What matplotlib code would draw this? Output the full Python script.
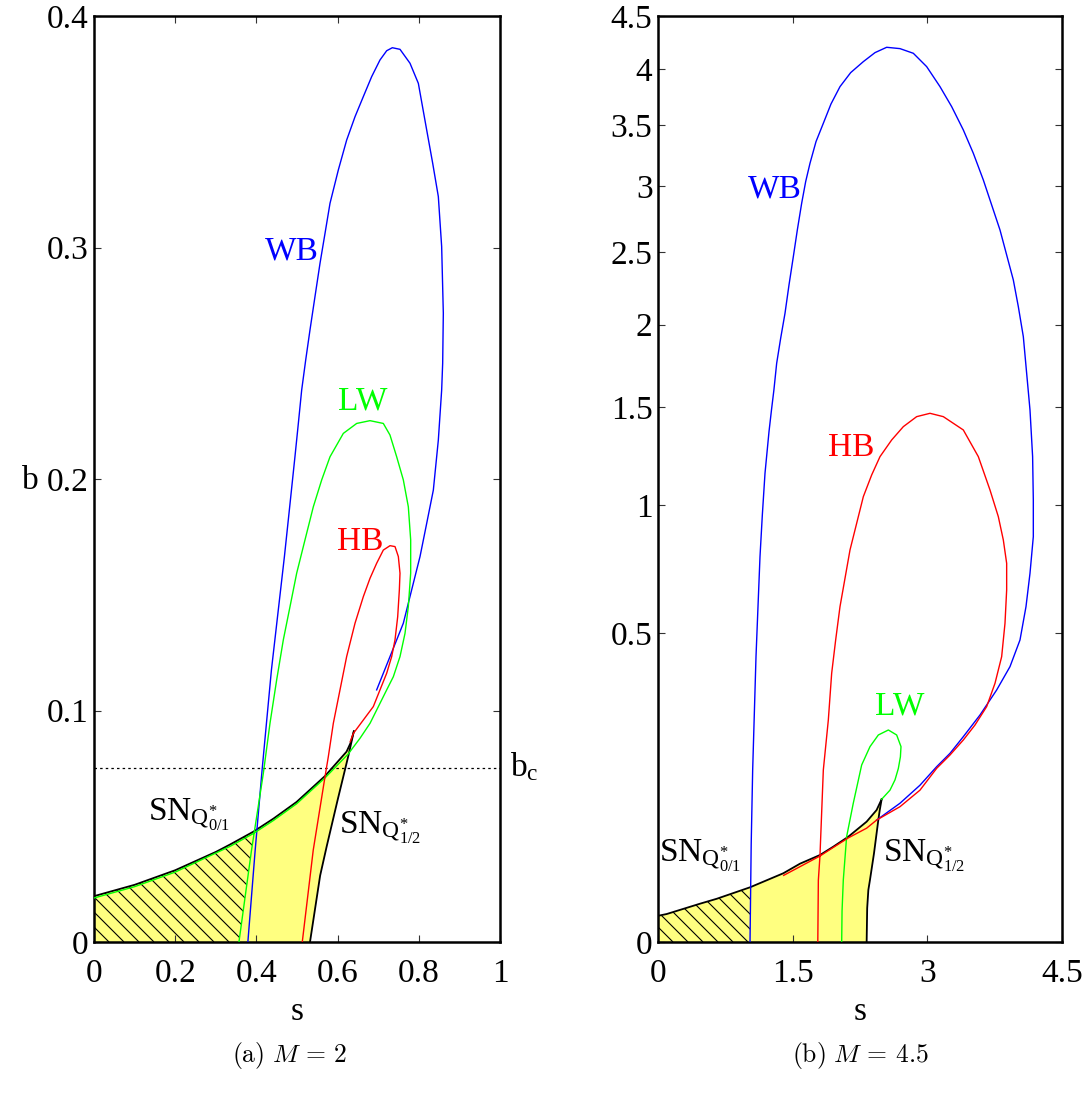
import numpy as np
import matplotlib
matplotlib.use("Agg")
import matplotlib.pyplot as plt
from matplotlib.patches import Polygon
from matplotlib.collections import LineCollection
from matplotlib.transforms import IdentityTransform, blended_transform_factory

plt.rcParams.update({
    "font.family": ["Liberation Serif", "DejaVu Serif"],
    "mathtext.fontset": "custom",
    "mathtext.rm": "Liberation Serif",
    "mathtext.it": "Liberation Serif:italic",
    "mathtext.bf": "Liberation Serif:bold",
    "font.size": 24,
})

# ---------------- panel (a): M = 2 ----------------
# saddle-node curve SN_{Q*_{0/1}} (upper edge of the shaded region, ends at the cusp)
s_sn01_a = [0.0, 0.1, 0.2, 0.3, 0.335, 0.393, 0.442, 0.499, 0.569, 0.622, 0.632, 0.640]
b_sn01_a = [0.0198, 0.0247, 0.0310, 0.0389, 0.0421, 0.0477, 0.0533, 0.0605, 0.0717, 0.0822, 0.0860, 0.0910]
# saddle-node curve SN_{Q*_{1/2}} (from the cusp down to b = 0)
s_sn12_a = [0.640, 0.627, 0.600, 0.573, 0.557, 0.532]
b_sn12_a = [0.0910, 0.0808, 0.0613, 0.0412, 0.0287, 0.0]
# WB curve
s_wb_a = [0.379, 0.397, 0.414, 0.437, 0.453, 0.469, 0.482, 0.495, 0.5033, 0.5115, 0.5215, 0.532,
          0.5443, 0.5567, 0.569, 0.5813, 0.6018, 0.6223, 0.6429, 0.6634, 0.6839, 0.7044, 0.7209,
          0.7348, 0.7537, 0.7783, 0.7989, 0.8194, 0.8342, 0.8481, 0.8563, 0.8604, 0.8588, 0.8563,
          0.8481, 0.8358, 0.8194, 0.8030, 0.7824, 0.7619, 0.7291, 0.6962]
b_wb_a = [0.0, 0.0397, 0.0743, 0.1175, 0.142, 0.1665, 0.188, 0.2097, 0.2240, 0.2384, 0.2515, 0.2644,
          0.2788, 0.2932, 0.3061, 0.3191, 0.3335, 0.3464, 0.3565, 0.3652, 0.3738, 0.3810, 0.3850,
          0.3863, 0.3856, 0.3796, 0.3709, 0.3508, 0.3364, 0.3220, 0.3004, 0.2716, 0.2500, 0.2384,
          0.2168, 0.1952, 0.1808, 0.1665, 0.1521, 0.1377, 0.1233, 0.1089]
# LW curve (loop, then running just under the SN_{Q*_{0/1}} curve to s = 0)
s_lw_a = [0.357, 0.388, 0.4171, 0.4335, 0.4499, 0.4663, 0.4828, 0.4992, 0.5197, 0.5402, 0.5608,
          0.5813, 0.6141, 0.6470, 0.6798, 0.7126, 0.7290, 0.7455, 0.7619, 0.7742, 0.7800, 0.7800,
          0.7742, 0.7660, 0.7537, 0.7373, 0.7209, 0.680, 0.6552, 0.626, 0.569, 0.499, 0.442, 0.393,
          0.335, 0.2, 0.1, 0.0]
b_lw_a = [0.0, 0.0397, 0.0729, 0.0945, 0.1132, 0.1305, 0.1449, 0.1593, 0.1737, 0.1880, 0.1996,
          0.2096, 0.2197, 0.2240, 0.2252, 0.2240, 0.2190, 0.2096, 0.1996, 0.1880, 0.1737, 0.1593,
          0.1449, 0.1333, 0.1233, 0.1146, 0.1089, 0.0945, 0.0880, 0.0812, 0.0709, 0.0597, 0.0525,
          0.0469, 0.0413, 0.0302, 0.0239, 0.0190]
# HB curve
s_hb_a = [0.513, 0.540, 0.569, 0.5772, 0.5895, 0.6059, 0.6223, 0.6429, 0.6634, 0.6798, 0.6962,
          0.7126, 0.7291, 0.7414, 0.7496, 0.7537, 0.7521, 0.7480, 0.7414, 0.7332, 0.7209, 0.7044,
          0.6880, 0.6634, 0.6388, 0.631]
b_hb_a = [0.0, 0.0397, 0.0714, 0.0801, 0.0945, 0.1089, 0.1233, 0.1377, 0.1492, 0.1571, 0.1636,
          0.1693, 0.1712, 0.1708, 0.1665, 0.1593, 0.1521, 0.1405, 0.1305, 0.1233, 0.1161, 0.1089,
          0.1017, 0.0959, 0.0901, 0.0865]
b_c = 0.075

# ---------------- panel (b): M = 4.5 ----------------
s_sn01_b = [0.0, 0.096, 0.468, 0.654, 1.025, 1.396, 1.582, 1.804, 1.953, 2.12, 2.324, 2.435, 2.491]
b_sn01_b = [0.0036, 0.0041, 0.0077, 0.0098, 0.0157, 0.0248, 0.0322, 0.0397, 0.0477, 0.0582, 0.0760,
            0.0914, 0.1069]
s_sn12_b = [2.491, 2.470, 2.454, 2.406, 2.361, 2.343, 2.330, 2.324]
b_sn12_b = [0.1069, 0.0914, 0.0780, 0.0413, 0.0202, 0.0142, 0.0060, 0.0]
s_wb_b = [1.025, 1.038, 1.0545, 1.0730, 1.0916, 1.1138, 1.1361, 1.1621, 1.1918, 1.2364, 1.2640,
          1.2910, 1.3218, 1.3663, 1.4146, 1.4591, 1.5074, 1.5519, 1.6002, 1.6448, 1.6930, 1.7599,
          1.8415, 1.9269, 2.0272, 2.1460, 2.2871, 2.4170, 2.5470, 2.6955, 2.8440, 2.9925, 3.1410,
          3.2710, 3.4009, 3.5123, 3.6237, 3.7165, 3.8093, 3.8836, 3.9578, 4.0135, 4.0692, 4.1063,
          4.1435, 4.1727, 4.1805, 4.1805, 4.1435, 4.0989, 4.0321, 3.9207, 3.7722, 3.5865, 3.4009,
          3.2524, 3.1039, 2.918, 2.695, 2.435]
b_wb_b = [0.0, 0.050, 0.1553, 0.2744, 0.4273, 0.5902, 0.7793, 0.9569, 1.1528, 1.3669, 1.4855,
          1.5993, 1.7575, 1.9127, 2.0743, 2.2655, 2.4651, 2.6607, 2.8638, 3.0342, 3.1823, 3.3618,
          3.5176, 3.6857, 3.8397, 3.9664, 4.0674, 4.1510, 4.2010, 4.1885, 4.1449, 4.0214, 3.8397,
          3.6623, 3.4605, 3.2646, 3.0475, 2.8508, 2.6607, 2.4771, 2.3002, 2.1185, 1.9232, 1.6973,
          1.4855, 1.2363, 1.0254, 0.8623, 0.7134, 0.5902, 0.4787, 0.3979, 0.3333, 0.2704, 0.2213,
          0.1868, 0.1613, 0.129, 0.101, 0.078]
s_hb_b = [1.780, 1.786, 1.804, 1.8415, 1.8972, 1.9344, 1.9789, 2.0272, 2.0829, 2.1386, 2.2128,
          2.2871, 2.3799, 2.4727, 2.6026, 2.7326, 2.8811, 3.0296, 3.1781, 3.4009, 3.5680, 3.6979,
          3.7907, 3.8464, 3.8836, 3.8836, 3.8650, 3.8279, 3.7536, 3.6608, 3.5308, 3.4009, 3.2524,
          3.1039, 2.918, 2.6955, 2.435, 2.324, 2.120, 1.953, 1.804, 1.582, 1.400]
b_hb_b = [0.0, 0.020, 0.0388, 0.1553, 0.2587, 0.3789, 0.4787, 0.5902, 0.6941, 0.8065, 0.9200,
          1.0409, 1.1446, 1.2363, 1.3226, 1.3938, 1.4484, 1.4669, 1.4484, 1.3759, 1.2363, 1.0723,
          0.9495, 0.8482, 0.7526, 0.6503, 0.5330, 0.4273, 0.3512, 0.2907, 0.2471, 0.2142, 0.1835,
          0.1583, 0.121, 0.0961, 0.078, 0.068, 0.0569, 0.0470, 0.0388, 0.0298, 0.0233]
s_lw_b = [2.046, 2.050, 2.064, 2.101, 2.175, 2.2685, 2.3613, 2.4541, 2.566, 2.6584, 2.7066, 2.700,
          2.677, 2.640, 2.584, 2.491]
b_lw_b = [0.0, 0.005, 0.0202, 0.0582, 0.101, 0.1644, 0.2003, 0.2249, 0.2359, 0.2249, 0.2003, 0.180,
          0.158, 0.138, 0.121, 0.1069]

xticks_a = [0, 0.2, 0.4, 0.6, 0.8, 1]
xticklabels_a = ["0", "0.2", "0.4", "0.6", "0.8", "1"]
yticks_a = [0, 0.1, 0.2, 0.3, 0.4]
yticklabels_a = ["0", "0.1", "0.2", "0.3", "0.4"]
xticks_b = [0, 1.5, 3, 4.5]
xticklabels_b = ["0", "1.5", "3", "4.5"]
yticks_b = [0, 0.5, 1, 1.5, 2, 2.5, 3, 3.5, 4, 4.5]
yticklabels_b = ["0", "0.5", "1", "1.5", "2", "2.5", "3", "3.5", "4", "4.5"]

BLUE, GREEN, RED = "#0000ff", "#00ff00", "#ff0000"
YELLOW = "#ffff80"

W, H = 1091, 1093
fig = plt.figure(figsize=(W / 100, H / 100), dpi=100)
axA = fig.add_axes([94 / W, 1 - 942 / H, 406 / W, 926 / H])
axB = fig.add_axes([658 / W, 1 - 942 / H, 404 / W, 926 / H])


def sqrt_fwd(y):
    return np.sqrt(np.clip(y, 0, None))


def sqrt_inv(y):
    return np.square(y)


axB.set_yscale("function", functions=(sqrt_fwd, sqrt_inv))


def style(ax, xt, xtl, yt, ytl, xlim, ylim):
    ax.set_xlim(*xlim)
    ax.set_ylim(*ylim)
    ax.set_xticks(xt)
    ax.set_xticklabels(xtl)
    ax.set_yticks(yt)
    ax.set_yticklabels(ytl)
    ax.minorticks_off()
    ax.tick_params(direction="in", length=5, width=0.8, top=True, right=True,
                   labelsize=24, color="#333333")
    ax.tick_params(axis="x", pad=12)
    ax.tick_params(axis="y", pad=4)
    for sp in ax.spines.values():
        sp.set_linewidth(1.8)


style(axA, xticks_a, xticklabels_a, yticks_a, yticklabels_a, (0, 1), (0, 0.4))
style(axB, xticks_b, xticklabels_b, yticks_b, yticklabels_b, (0, 4.5), (0, 4.5))


def hatch(ax, verts, spacing=15, lw=0.8):
    patch = Polygon(verts, closed=True, facecolor="none", edgecolor="none",
                    transform=ax.transData)
    ax.add_patch(patch)
    x0, y0, x1, y1 = ax.bbox.extents
    segs = []
    c = x0 + y0
    while c < x1 + y1 + spacing:
        segs.append([(c - y1, y1), (c - y0, y0)])
        c += spacing
    lc = LineCollection(segs, colors="black", linewidths=lw,
                        transform=IdentityTransform(), zorder=1.5)
    ax.add_collection(lc, autolim=False)
    lc.set_clip_path(patch)


def region(ax, s01, b01, s12, b12, s_cut, s_edge, b_edge):
    # shaded region below SN_{0/1} and left of SN_{1/2}
    verts = [(0, 0)] + list(zip(s01, b01)) + list(zip(s12[1:], b12[1:]))
    ax.add_patch(Polygon(verts, closed=True, facecolor=YELLOW, edgecolor="none", zorder=1))
    hv = [(0, 0)] + [(s, b) for s, b in zip(s01, b01) if s <= s_cut]
    hv += list(zip(s_edge, b_edge))
    hatch(ax, hv)


LW_CURVE = 1.0
LW_SN = 1.3

# ---- panel (a)
region(axA, s_sn01_a, b_sn01_a, s_sn12_a, b_sn12_a, 0.393,
       s_lw_a[1::-1], b_lw_a[1::-1])
axA.plot(s_sn01_a, b_sn01_a, color="black", lw=LW_SN, zorder=2.5)
axA.plot(s_sn12_a, b_sn12_a, color="black", lw=LW_SN, zorder=2.5)
axA.plot(s_wb_a, b_wb_a, color=BLUE, lw=LW_CURVE, zorder=3)
axA.plot(s_lw_a, b_lw_a, color=GREEN, lw=LW_CURVE, zorder=3)
axA.plot(s_hb_a, b_hb_a, color=RED, lw=LW_CURVE, zorder=3)
axA.axhline(b_c, color="black", lw=0.9, ls=(0, (2, 2.5)), zorder=2)

axA.text(0.486, 0.2949, "WB", color=BLUE, ha="center", va="baseline", fontsize=24)
axA.text(0.663, 0.230, "LW", color=GREEN, ha="center", va="baseline", fontsize=24)
axA.text(0.655, 0.1695, "HB", color=RED, ha="center", va="baseline", fontsize=24)
axA.text(0.132, 0.0524, r"$\mathrm{SN}_{\mathrm{Q}^{*}_{0/1}}$", ha="left", va="baseline",
         fontsize=24, zorder=4)
axA.text(0.604, 0.0470, r"$\mathrm{SN}_{\mathrm{Q}^{*}_{1/2}}$", ha="left", va="baseline",
         fontsize=24, zorder=4)
trA = blended_transform_factory(axA.transAxes, axA.transData)
axA.text(1.025, 0.0717, r"$\mathrm{b}_{\mathrm{c}}$", transform=trA, ha="left",
         va="baseline", fontsize=24, clip_on=False)

# ---- panel (b)
region(axB, s_sn01_b, b_sn01_b, s_sn12_b, b_sn12_b, 1.025,
       s_wb_b[:1], b_wb_b[:1])
axB.plot(s_sn01_b, b_sn01_b, color="black", lw=LW_SN, zorder=2.5)
axB.plot(s_sn12_b, b_sn12_b, color="black", lw=LW_SN, zorder=2.5)
axB.plot(s_wb_b, b_wb_b, color=BLUE, lw=LW_CURVE, zorder=3)
axB.plot(s_lw_b, b_lw_b, color=GREEN, lw=LW_CURVE, zorder=3)
axB.plot(s_hb_b, b_hb_b, color=RED, lw=LW_CURVE, zorder=3)

axB.text(1.303, 2.905, "WB", color=BLUE, ha="center", va="baseline", fontsize=24)
axB.text(2.157, 1.238, "HB", color=RED, ha="center", va="baseline", fontsize=24)
axB.text(2.695, 0.2714, "LW", color=GREEN, ha="center", va="baseline", fontsize=24)
axB.text(0.015, 0.0338, r"$\mathrm{SN}_{\mathrm{Q}^{*}_{0/1}}$", ha="left", va="baseline",
         fontsize=24, zorder=4)
axB.text(2.51, 0.0338, r"$\mathrm{SN}_{\mathrm{Q}^{*}_{1/2}}$", ha="left", va="baseline",
         fontsize=24, zorder=4)

# axis labels and sub-captions
fig.text(30 / W, 1 - 489 / H, "b", ha="center", va="baseline", fontsize=24)
fig.text(297 / W, 1 - 1020 / H, "s", ha="center", va="baseline", fontsize=24)
fig.text(860 / W, 1 - 1020 / H, "s", ha="center", va="baseline", fontsize=24)
fig.text(290 / W, 1 - 1062 / H, r"$\mathrm{(a)}\ M\,=\,2$", ha="center", va="baseline",
         fontsize=18.5, math_fontfamily="cm")
fig.text(860 / W, 1 - 1062 / H, r"$\mathrm{(b)}\ M\,=\,4.5$", ha="center", va="baseline",
         fontsize=18.5, math_fontfamily="cm")

fig.savefig("out.png", dpi=100, facecolor="white")
